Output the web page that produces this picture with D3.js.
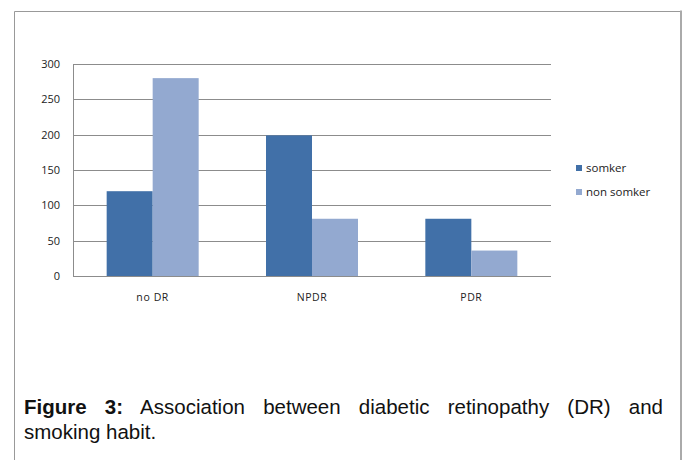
<!DOCTYPE html>
<html>
<head>
<meta charset="utf-8">
<script src="https://cdn.jsdelivr.net/npm/d3@7"></script>
<style>
  body { margin: 0; background: #fff; }
  #wrap { position: relative; width: 686px; height: 460px; overflow: hidden; }
  #caption { position: absolute; left: 24px; top: 394px; width: 639px;
    font-family: "Liberation Sans", Arial, sans-serif; font-size: 20.5px; line-height: 25px; color: #111; }
  #caption .l1 { text-align: justify; text-align-last: justify; white-space: nowrap; }
</style>
</head>
<body>
<div id="wrap">
  <div id="chart"></div>
  <div id="caption"><div class="l1"><b>Figure 3:</b> Association between diabetic retinopathy (DR) and</div><div>smoking habit.</div></div>
</div>
<script>
// données
const categories = ["no DR", "NPDR", "PDR"];
const seriesNames = ["somker", "non somker"];
const somker = [120, 199, 81];
const nonSomker = [280, 81, 36];
const yTicks = [0, 50, 100, 150, 200, 250, 300];

const colors = ["#4170A8", "#93A9D0"];

// dimensions
const margin = { top: 64, left: 73 },
    width = 478,
    height = 212;

const svg = d3.select("#chart")
    .append("svg")
    .attr("width", 686)
    .attr("height", 460)
    .style("position", "absolute")
    .style("left", 0)
    .style("top", 0);

// cadre
svg.append("path")
    .attr("d", "M14.5,470 V11.5 H681")
    .attr("fill", "none")
    .attr("stroke", "#999")
    .attr("stroke-width", 1);
svg.append("line")
    .attr("x1", 681).attr("x2", 681)
    .attr("y1", 10.5).attr("y2", 470)
    .attr("stroke", "#aaa")
    .attr("stroke-width", 2);

const g = svg.append("g")
    .attr("transform", `translate(${margin.left}, ${margin.top})`);

const x = d3.scaleBand()
    .domain(categories)
    .range([0, width]);

const y = d3.scaleLinear()
    .domain([0, 300])
    .range([height, 0]);

const x1 = d3.scaleBand()
    .domain(seriesNames)
    .range([0, 92]);

// grille
g.selectAll("line.grid")
    .data(yTicks)
    .join("line")
    .attr("class", "grid")
    .attr("x1", 0)
    .attr("x2", width)
    .attr("y1", d => Math.round(y(d)) + 0.5)
    .attr("y2", d => Math.round(y(d)) + 0.5)
    .attr("stroke", "#8c8c8c")
    .attr("stroke-width", 1);

// axe Y
g.append("line")
    .attr("x1", 0.5).attr("x2", 0.5)
    .attr("y1", 0).attr("y2", height)
    .attr("stroke", "#8c8c8c");

g.selectAll("text.ytick")
    .data(yTicks)
    .join("text")
    .attr("class", "ytick")
    .attr("x", -13)
    .attr("y", d => y(d) + 4)
    .attr("text-anchor", "end")
    .style("font-family", "'Open Sans', sans-serif")
    .style("font-size", "11px")
    .style("fill", "#222")
    .text(d => d);

// barres
const data = categories.map((c, i) => ({ cat: c, vals: [somker[i], nonSomker[i]] }));

const groups = g.selectAll("g.grp")
    .data(data)
    .join("g")
    .attr("class", "grp")
    .attr("transform", d => `translate(${x(d.cat) + x.bandwidth() / 2 - 46}, 0)`);

groups.selectAll("rect")
    .data(d => d.vals.map((v, j) => ({ key: seriesNames[j], v: v, j: j })))
    .join("rect")
    .attr("x", d => x1(d.key))
    .attr("y", d => y(d.v))
    .attr("width", x1.bandwidth())
    .attr("height", d => height - y(d.v))
    .style("fill", d => colors[d.j]);

// labels catégories
g.selectAll("text.xlab")
    .data(categories)
    .join("text")
    .attr("class", "xlab")
    .attr("x", d => x(d) + x.bandwidth() / 2)
    .attr("y", height + 25)
    .attr("text-anchor", "middle")
    .style("font-family", "'Open Sans', sans-serif")
    .style("font-size", "10.5px")
    .style("letter-spacing", "0.6px")
    .style("fill", "#222")
    .text(d => d);

// légende
const leg = svg.append("g").attr("transform", "translate(576, 165)");
leg.selectAll("rect")
    .data(seriesNames)
    .join("rect")
    .attr("x", 0)
    .attr("y", (d, i) => i * 24)
    .attr("width", 6)
    .attr("height", 6)
    .style("fill", (d, i) => colors[i]);
leg.selectAll("text")
    .data(seriesNames)
    .join("text")
    .attr("x", 10)
    .attr("y", (d, i) => i * 24 + 7)
    .style("font-family", "'Open Sans', sans-serif")
    .style("font-size", "11.5px")
    .style("fill", "#222")
    .text(d => d);
</script>
</body>
</html>
